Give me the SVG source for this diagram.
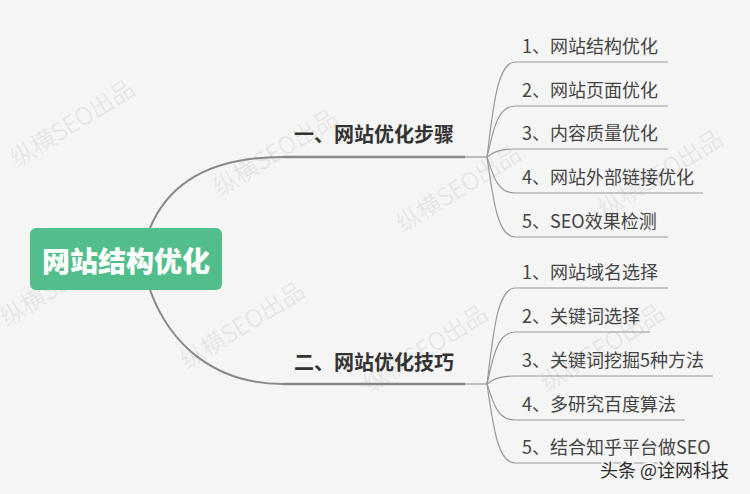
<svg xmlns="http://www.w3.org/2000/svg" width="750" height="494" viewBox="0 0 750 494">
<style>
.wm{font-family:"Noto Sans CJK SC","Noto Sans",sans-serif;font-size:24px;fill:#e3e3e3;font-weight:300}
.l1{font-family:"Noto Sans CJK SC","Noto Sans",sans-serif;font-size:20px;font-weight:bold;fill:#333;dominant-baseline:central}
.l2{font-family:"Noto Sans CJK SC","Noto Sans",sans-serif;font-size:18px;fill:#444;dominant-baseline:central}
.root{font-family:"Noto Sans CJK SC","Noto Sans",sans-serif;font-size:28px;font-weight:900;fill:#fff;text-anchor:middle;dominant-baseline:central}
.main{fill:none;stroke:#888;stroke-width:2}
.ul{fill:none;stroke:#888;stroke-width:2.5}
.sub{fill:none;stroke:#999;stroke-width:1.2}
.tag{font-family:"Noto Sans CJK SC","Noto Sans",sans-serif;font-size:18px;fill:#2a2a2a;stroke:#f5f5f5;stroke-width:4;paint-order:stroke;stroke-linejoin:round}
</style>
<rect width="750" height="494" fill="#f5f5f5"/>
<g id="watermarks">
<text class="wm" transform="translate(17,168) rotate(-32)">纵横SEO出品</text>
<text class="wm" transform="translate(220,197) rotate(-32)">纵横SEO出品</text>
<text class="wm" transform="translate(403,233) rotate(-32)">纵横SEO出品</text>
<text class="wm" transform="translate(605,218) rotate(-32)">纵横SEO出品</text>
<text class="wm" transform="translate(7,327) rotate(-32)">纵横SEO出品</text>
<text class="wm" transform="translate(187,370) rotate(-32)">纵横SEO出品</text>
<text class="wm" transform="translate(370,393) rotate(-32)">纵横SEO出品</text>
<text class="wm" transform="translate(547,392) rotate(-32)">纵横SEO出品</text>
</g>
<g id="connectors">
<path class="main" d="M150,228 C170,180 215,157 283,157"/>
<path class="main" d="M150,290 C170,345 215,384 283,384"/>
<path class="ul" d="M283,157 H465"/>
<path class="sub" d="M465,157 H487"/>
<path class="ul" d="M283,384 H465"/>
<path class="sub" d="M465,384 H487"/>
<path class="sub" d="M487,157 C493,109.5 497,62 515,62 H668"/>
<path class="sub" d="M487,157 C493,131.5 497,106 515,106 H668"/>
<path class="sub" d="M487,157 C493,153 497,149 515,149 H668"/>
<path class="sub" d="M487,157 C493,175 497,193 515,193 H703"/>
<path class="sub" d="M487,157 C493,197 497,237 515,237 H668"/>
<path class="sub" d="M487,384 C493,336 497,288 515,288 H668"/>
<path class="sub" d="M487,384 C493,358 497,332 515,332 H650"/>
<path class="sub" d="M487,384 C493,380 497,376 515,376 H713"/>
<path class="sub" d="M487,384 C493,402 497,420 515,420 H685"/>
<path class="sub" d="M487,384 C493,423.5 497,463 515,463 H720"/>
</g>
<g id="root">
<rect x="30" y="228" width="192" height="62" rx="6" fill="#52be8c"/>
<text class="root" x="126" y="260">网站结构优化</text>
</g>
<g id="b1"><text class="l1" x="294" y="133">一、网站优化步骤</text></g>
<g id="b2"><text class="l1" x="294" y="361">二、网站优化技巧</text></g>
<g id="b1c1"><text class="l2" x="522" y="45">1、网站结构优化</text></g>
<g id="b1c2"><text class="l2" x="522" y="89">2、网站页面优化</text></g>
<g id="b1c3"><text class="l2" x="522" y="132">3、内容质量优化</text></g>
<g id="b1c4"><text class="l2" x="522" y="176">4、网站外部链接优化</text></g>
<g id="b1c5"><text class="l2" x="522" y="220">5、SEO效果检测</text></g>
<g id="b2c1"><text class="l2" x="522" y="271">1、网站域名选择</text></g>
<g id="b2c2"><text class="l2" x="522" y="315">2、关键词选择</text></g>
<g id="b2c3"><text class="l2" x="522" y="359">3、关键词挖掘5种方法</text></g>
<g id="b2c4"><text class="l2" x="522" y="403">4、多研究百度算法</text></g>
<g id="b2c5"><text class="l2" x="522" y="446">5、结合知乎平台做SEO</text></g>
<text class="tag" x="600" y="477">头条 @诠网科技</text>
</svg>
